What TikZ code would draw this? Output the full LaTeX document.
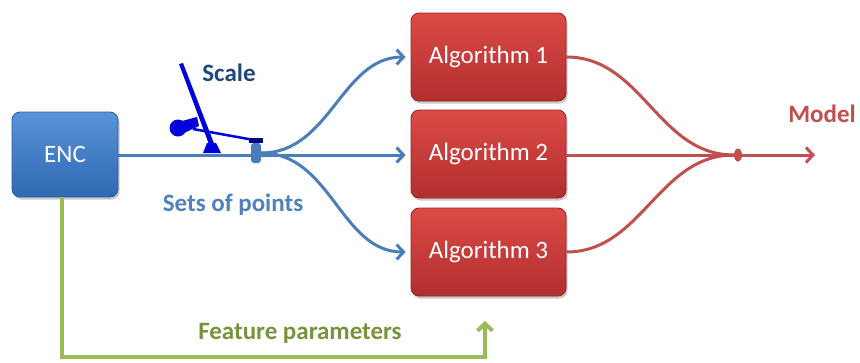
\documentclass[tikz,border=0pt]{standalone}
\usepackage{fontspec}
\setmainfont{Carlito}
\usetikzlibrary{arrows.meta,shadows,shapes.geometric}
\definecolor{encTop}{HTML}{5A93D8}
\definecolor{encBot}{HTML}{2E68B2}
\definecolor{encDraw}{HTML}{2B5E9E}
\definecolor{algTop}{HTML}{DC4A47}
\definecolor{algBot}{HTML}{B12F2E}
\definecolor{algDraw}{HTML}{952626}
\definecolor{lineBlue}{HTML}{4A7EBB}
\definecolor{lineRed}{HTML}{C0504D}
\definecolor{lineGreen}{HTML}{9BBB59}
\definecolor{txtGreen}{HTML}{77933C}
\definecolor{txtNavy}{HTML}{1F497D}
\definecolor{txtBlue}{HTML}{4F81BD}
\definecolor{iconBlue}{HTML}{0000DD}
\definecolor{iconDark}{HTML}{00008B}
\begin{document}
\begin{tikzpicture}[x=1pt,y=-1pt,
  boxbase/.style={rounded corners=8pt, text=white, line width=0.8pt,
    font=\fontsize{25}{30}\selectfont,
    drop shadow={shadow xshift=1.5pt,shadow yshift=-2.5pt,opacity=0.35,fill=black!60}},
  encbox/.style={boxbase, minimum width=106pt, minimum height=85pt,
    top color=encTop, bottom color=encBot, draw=encDraw},
  algbox/.style={boxbase, minimum width=155pt, minimum height=88pt,
    top color=algTop, bottom color=algBot, draw=algDraw},
  lbl/.style={font=\bfseries\fontsize{25}{30}\selectfont, inner sep=0pt},
  barb/.style={-{Straight Barb[length=7pt,width=15pt]}},
  blueline/.style={draw=lineBlue, line width=3pt},
  redline/.style={draw=lineRed, line width=3pt},
  greenline/.style={draw=lineGreen, line width=4pt},
]
\useasboundingbox (0,0) rectangle (860,362);

% boxes
\node[encbox] (enc) at (65,154.5) {ENC};
\node[algbox] (alg1) at (488.5,57) {Algorithm 1};
\node[algbox] (alg2) at (488.5,154) {Algorithm 2};
\node[algbox] (alg3) at (488.5,252) {Algorithm 3};

% splitter and junction
\node[fill=lineBlue, rounded corners=3pt, minimum width=10pt, minimum height=20pt, inner sep=0pt] (split) at (256,153) {};
\node[fill=lineRed, ellipse, minimum width=8pt, minimum height=13pt, inner sep=0pt] (junc) at (738,155) {};
\coordinate (mend) at (815,155);

% scale icon
\fill[iconBlue] (179,64) -- (183,63) -- (215,146) -- (210,147) -- cycle;
\fill[iconBlue] (178,128) circle (8.5);
\fill[iconBlue] (182,121) -- (197,117) -- (199,126) -- (184,133) -- cycle;
\draw[iconBlue, line width=2.5pt] (193,129) -- (254,140);
\fill[iconBlue] (203,153) -- (207,143) -- (216,143) -- (221,153) -- cycle;
\fill[iconDark] (249,137.5) rectangle (263,143);

% blue connectors
\draw[blueline] (enc.east |- 0,155) -- (split.west |- 0,155);
\draw[blueline, barb, shorten >=5pt] (split.east) to[out=0,in=180] (alg1.west);
\draw[blueline, barb, shorten >=5pt] (split.east |- 0,155) -- (alg2.west |- 0,155);
\draw[blueline, barb, shorten >=5pt] (split.east) to[out=0,in=180] (alg3.west);

% red connectors
\draw[redline] (alg1.east) to[out=0,in=180] (junc.west);
\draw[redline] (alg2.east |- junc.west) -- (junc.west);
\draw[redline] (alg3.east) to[out=0,in=180] (junc.west);
\draw[redline, barb] (junc.east) -- (mend);

% green connector
\coordinate (gstart) at (62,0);
\coordinate (gtip) at (485,321);
\draw[greenline, barb] (enc.south -| gstart) |- (gtip |- 0,357) -- (gtip);

% labels
\node[lbl, text=txtNavy] (lscale) at (229,73) {Scale};
\node[lbl, text=txtBlue] (lsets) at (233,205) {Sets of points};
\node[lbl, text=lineRed] (lmodel) at (822,114) {Model};
\node[lbl, text=txtGreen] (lfeat) at (300,333) {Feature parameters};
\end{tikzpicture}
\end{document}
